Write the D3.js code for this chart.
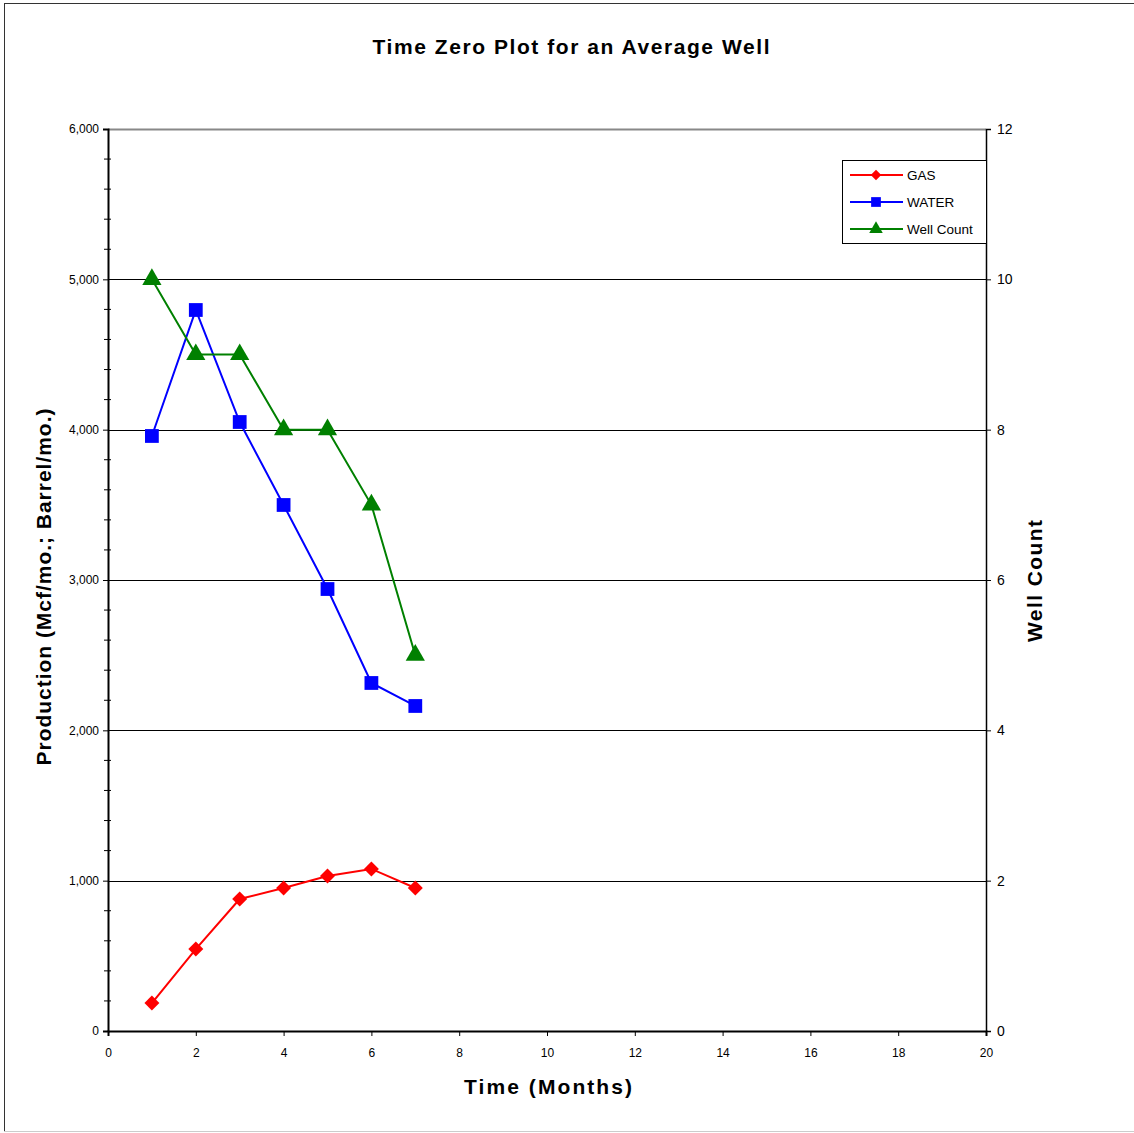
<!DOCTYPE html>
<html><head><meta charset="utf-8">
<script src="https://cdn.jsdelivr.net/npm/d3@7"></script>
<style>body{margin:0;background:#fff;} svg{display:block;font-family:"Liberation Sans",Arial,sans-serif;}</style>
</head><body>
<script>
const months = [1,2,3,4,5,6,7];
const gas = [186,545,878,951,1031,1078,951];
const water = [3958,4796,4051,3499,2940,2315,2162];
const wellCount = [10,9,9,8,8,7,5];
const xTicks = [0,2,4,6,8,10,12,14,16,18,20];
const yLeftTicks = [0,1000,2000,3000,4000,5000,6000];
const yRightTicks = [0,2,4,6,8,10,12];
const seriesNames = ["GAS","WATER","Well Count"];
const seriesColors = ["#ff0000","#0000ff","#008000"];

const W=1134,H=1133;
const svg=d3.select("body").append("svg").attr("width",W).attr("height",H);
svg.append("rect").attr("width",W).attr("height",H).attr("fill","#fff");
svg.append("line").attr("x1",4).attr("x2",W).attr("y1",3.5).attr("y2",3.5).attr("stroke","#333");
svg.append("line").attr("x1",4.5).attr("x2",4.5).attr("y1",3).attr("y2",1132).attr("stroke","#333");
svg.append("line").attr("x1",4).attr("x2",W).attr("y1",1131.5).attr("y2",1131.5).attr("stroke","#ccc");

const L=108,R=986,T=129,B=1031;
const x=d3.scaleLinear().domain([0,20]).range([L,R]);
const yL=d3.scaleLinear().domain([0,6000]).range([B,T]);
const yR=d3.scaleLinear().domain([0,12]).range([B,T]);

svg.append("g").selectAll("line").data(yLeftTicks.filter(d=>d>0&&d<6000)).join("line")
 .attr("x1",L).attr("x2",R).attr("y1",d=>Math.round(yL(d))+0.5).attr("y2",d=>Math.round(yL(d))+0.5)
 .attr("stroke","#000").attr("stroke-width",1);
svg.append("line").attr("x1",L).attr("x2",R).attr("y1",T+0.5).attr("y2",T+0.5).attr("stroke","#888").attr("stroke-width",2);

const gL=svg.append("g").attr("transform",`translate(${L},0)`);
gL.call(d3.axisLeft(yL).tickValues(yLeftTicks).tickFormat(d3.format(",")).tickSize(5).tickPadding(4));
gL.append("g").selectAll("line").data(d3.range(0,6001,200).filter(d=>d%1000)).join("line")
 .attr("x1",-4).attr("x2",3).attr("y1",d=>yL(d)).attr("y2",d=>yL(d)).attr("stroke","#000");
gL.select(".domain").attr("stroke-width",2);
const gR=svg.append("g").attr("transform",`translate(${R},0)`);
gR.call(d3.axisRight(yR).tickValues(yRightTicks).tickSize(5).tickPadding(6));
gR.select(".domain").attr("stroke-width",1.5);
const gB=svg.append("g").attr("transform",`translate(0,${B})`);
gB.call(d3.axisBottom(x).tickValues(xTicks).tickSize(5).tickPadding(12));
gB.select(".domain").attr("stroke-width",2);
svg.selectAll(".tick text").attr("font-size",12).attr("font-family","Liberation Sans, Arial, sans-serif").attr("fill","#000");
gR.selectAll(".tick text").attr("font-size",14);

function label(t,len,tr){
  return svg.append("text").attr("transform",tr).attr("text-anchor","middle").attr("font-size",21)
   .attr("font-weight","bold").attr("textLength",len).attr("lengthAdjust","spacing").text(t);
}
label("Time Zero Plot for an Average Well",397,"translate(571,54)");
label("Production (Mcf/mo.; Barrel/mo.)",357,"translate(51,587) rotate(-90)");
label("Well Count",122,"translate(1042,581) rotate(-90)");
label("Time (Months)",168,"translate(548,1094)");

const diamond={draw(ctx,size){const r=Math.sqrt(size/2);ctx.moveTo(0,-r);ctx.lineTo(r,0);ctx.lineTo(0,r);ctx.lineTo(-r,0);ctx.closePath();}};
const data=[months.map((m,i)=>[m,gas[i]]),months.map((m,i)=>[m,water[i]]),months.map((m,i)=>[m,wellCount[i]])];
const ys=[yL,yL,yR];
const syms=[diamond,d3.symbolSquare,d3.symbolTriangle];
const sizes=[112,190,160];
data.forEach((d,k)=>{
  const line=d3.line().x(p=>x(p[0])).y(p=>ys[k](p[1]));
  svg.append("path").datum(d).attr("d",line).attr("fill","none").attr("stroke",seriesColors[k]).attr("stroke-width",2);
});
data.forEach((d,k)=>{
  svg.append("g").selectAll("path").data(d).join("path")
   .attr("transform",p=>`translate(${x(p[0])},${ys[k](p[1])})`)
   .attr("d",d3.symbol().type(syms[k]).size(sizes[k])).attr("fill",seriesColors[k]);
});

const lg=svg.append("g");
lg.append("rect").attr("x",842.5).attr("y",160.5).attr("width",144).attr("height",83).attr("fill","#fff").attr("stroke","#000");
seriesNames.forEach((n,k)=>{
  const yy=175+k*27;
  lg.append("line").attr("x1",850).attr("x2",903).attr("y1",yy).attr("y2",yy).attr("stroke",seriesColors[k]).attr("stroke-width",2);
  lg.append("path").attr("transform",`translate(876,${yy})`).attr("d",d3.symbol().type(syms[k]).size(sizes[k]*0.5)).attr("fill",seriesColors[k]);
  lg.append("text").attr("x",907).attr("y",yy+5).attr("font-size",13.5).text(n);
});
</script>
</body></html>
